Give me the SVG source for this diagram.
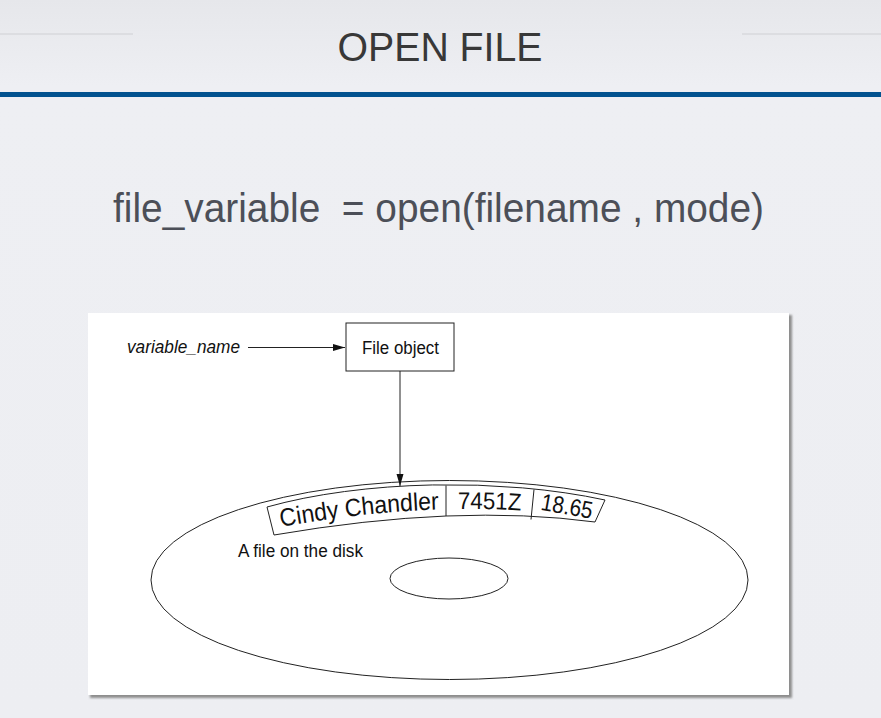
<svg xmlns="http://www.w3.org/2000/svg" width="881" height="718" viewBox="0 0 881 718">
  <defs>
    <linearGradient id="bg" x1="0" y1="0" x2="0" y2="1">
      <stop offset="0" stop-color="#e6e7eb"/>
      <stop offset="0.12" stop-color="#eeeff3"/>
      <stop offset="1" stop-color="#edeef2"/>
    </linearGradient>
    <filter id="shadow" x="-5%" y="-5%" width="110%" height="110%">
      <feGaussianBlur stdDeviation="1.2"/>
    </filter>
    <marker id="arrow" markerUnits="userSpaceOnUse" markerWidth="13" markerHeight="8" refX="12" refY="3.5" orient="auto">
      <path d="M0,0 L12,3.5 L0,7 Z" fill="#111"/>
    </marker>
    <path id="baseline" d="M 280 527 Q 457 495.5 592 519"/>
    <path id="baseline2" d="M 539 509.5 L 595 519.5"/>
  </defs>
  <style>
    .lbl { font-family: "Liberation Sans", Arial, sans-serif; font-size: 18px; fill: #111; }
    .band { font-family: "Liberation Sans", Arial, sans-serif; fill: #111; }
    .stroke { fill: none; stroke: #222; stroke-width: 1; }
    .conn { fill: none; stroke: #222; stroke-width: 1; marker-end: url(#arrow); }
  </style>

  <!-- slide background -->
  <rect x="0" y="0" width="881" height="718" fill="url(#bg)"/>
  <rect x="0" y="33" width="133" height="2" fill="#dcdde1"/>
  <rect x="742" y="33" width="139" height="2" fill="#dcdde1"/>
  <text x="440" y="61" text-anchor="middle" font-family="'Liberation Sans', Arial, sans-serif" font-size="41" fill="#383838" textLength="205" lengthAdjust="spacingAndGlyphs">OPEN FILE</text>
  <rect x="0" y="92" width="881" height="5" fill="#02528f"/>

  <text x="113" y="222" font-family="'Liberation Sans', Arial, sans-serif" font-size="40" fill="#4c4f58" textLength="651" lengthAdjust="spacingAndGlyphs" xml:space="preserve">file_variable  = open(filename , mode)</text>

  <!-- picture panel -->
  <rect x="90" y="315" width="702" height="383" fill="#8e8e8e" filter="url(#shadow)"/>
  <rect x="88" y="313" width="701" height="382" fill="#ffffff"/>

  <g id="disk">
    <ellipse cx="449.5" cy="580" rx="298.5" ry="99.5" class="stroke"/>
    <ellipse cx="449" cy="578.5" rx="59" ry="20.5" class="stroke"/>
    <text x="238" y="557" class="lbl" textLength="125" lengthAdjust="spacingAndGlyphs">A file on the disk</text>
  </g>

  <g id="record">
    <path d="M 267 507 A 285 95 0 0 1 605 500 L 595 522 Q 457.5 503.5 274 535 Z" fill="#fff" stroke="#222" stroke-width="1"/>
    <line x1="446" y1="485.5" x2="446" y2="516" stroke="#222" stroke-width="1"/>
    <line x1="534" y1="489.5" x2="531" y2="519.5" stroke="#222" stroke-width="1"/>
    <text class="band" font-size="25"><textPath href="#baseline" startOffset="1" textLength="159" lengthAdjust="spacingAndGlyphs">Cindy Chandler</textPath></text>
    <text class="band" font-size="24"><textPath href="#baseline" startOffset="179" textLength="63" lengthAdjust="spacingAndGlyphs">7451Z</textPath></text>
    <text class="band" font-size="24"><textPath href="#baseline2" startOffset="1" textLength="52" lengthAdjust="spacingAndGlyphs">18.65</textPath></text>
  </g>

  <g id="variable_name">
    <text x="127" y="353" class="lbl" font-style="italic" textLength="113" lengthAdjust="spacingAndGlyphs">variable_name</text>
  </g>

  <g id="file_object">
    <rect x="346" y="323" width="108" height="48" fill="#fff" stroke="#222" stroke-width="1"/>
    <text x="362" y="354" class="lbl" textLength="77" lengthAdjust="spacingAndGlyphs">File object</text>
  </g>

  <g id="connectors">
    <line x1="248" y1="347.5" x2="345" y2="347.5" class="conn"/>
    <line x1="400" y1="371" x2="400" y2="486" class="conn"/>
  </g>
</svg>
